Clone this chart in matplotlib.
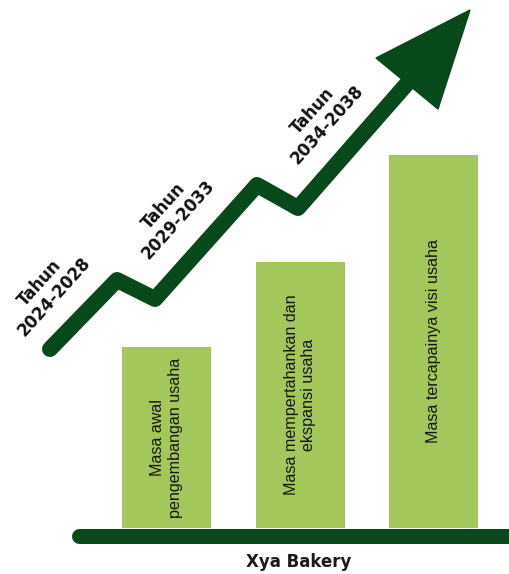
import numpy as np
import matplotlib
matplotlib.use("Agg")
import matplotlib.pyplot as plt
from matplotlib.patches import Polygon

# data
phases = ["Masa awal\npengembangan usaha",
          "Masa mempertahankan dan\nekspansi usaha",
          "Masa tercapainya visi usaha"]
levels = [181, 266, 373]
periods = ["Tahun\n2024-2028", "Tahun\n2029-2033", "Tahun\n2034-2038"]
title = "Xya Bakery"

W, H = 509, 574
dark = "#07491a"
bar_col = "#a3c75a"

fig = plt.figure(figsize=(W / 100, H / 100), dpi=100)
fig.patch.set_facecolor("white")

# decoration layer in pixel coordinates
deco = fig.add_axes([0, 0, 1, 1])
deco.set_xlim(0, W)
deco.set_ylim(H, 0)
deco.axis("off")

# bars layer: x = phase index, y = level (0 at baseline)
base_px = 528
ax = fig.add_axes([0, 0, 1, 1])
step = 133.5
ax.set_xlim(-166.5 / step, (W - 166.5) / step)
ax.set_ylim(base_px - H, base_px)
ax.axis("off")
ax.patch.set_alpha(0)

x = np.arange(len(levels))
ax.bar(x, levels, width=89 / step, color=bar_col, zorder=2)
for xi, lv, lab in zip(x, levels, phases):
    ax.text(xi, lv / 2, lab, rotation=90, ha="center", va="center",
            multialignment="center", fontsize=11.6, family="Liberation Sans",
            color="#161616", linespacing=1.2, zorder=3)

# baseline
ax.plot([(79 - 166.5) / step, (W + 20 - 166.5) / step], [-7.5, -7.5],
        color=dark, lw=10.8, solid_capstyle="round", zorder=4)

# rising zigzag arrow
path_x = [50, 117, 155, 257, 298, 412]
path_y = [349, 280, 299, 185, 208, 78]
deco.plot(path_x, path_y, color=dark, lw=11.5, solid_capstyle="round",
          solid_joinstyle="round", zorder=1)
deco.add_patch(Polygon([(470, 10), (376, 58), (438, 109)], closed=True,
                       facecolor=dark, edgecolor=dark, lw=1, zorder=1))

# period labels
for (tx, ty), lab in zip([(47, 290), (171, 213), (320, 118)], periods):
    deco.text(tx, ty, lab, rotation=48, ha="center", va="center",
              rotation_mode="anchor", multialignment="center",
              fontsize=12, fontweight="bold", color="#111111",
              linespacing=1.15)

deco.text(299, 562, title, ha="center", va="center", fontsize=12,
          fontweight="bold", color="#1a1a1a")

fig.savefig("out.png", dpi=100)
